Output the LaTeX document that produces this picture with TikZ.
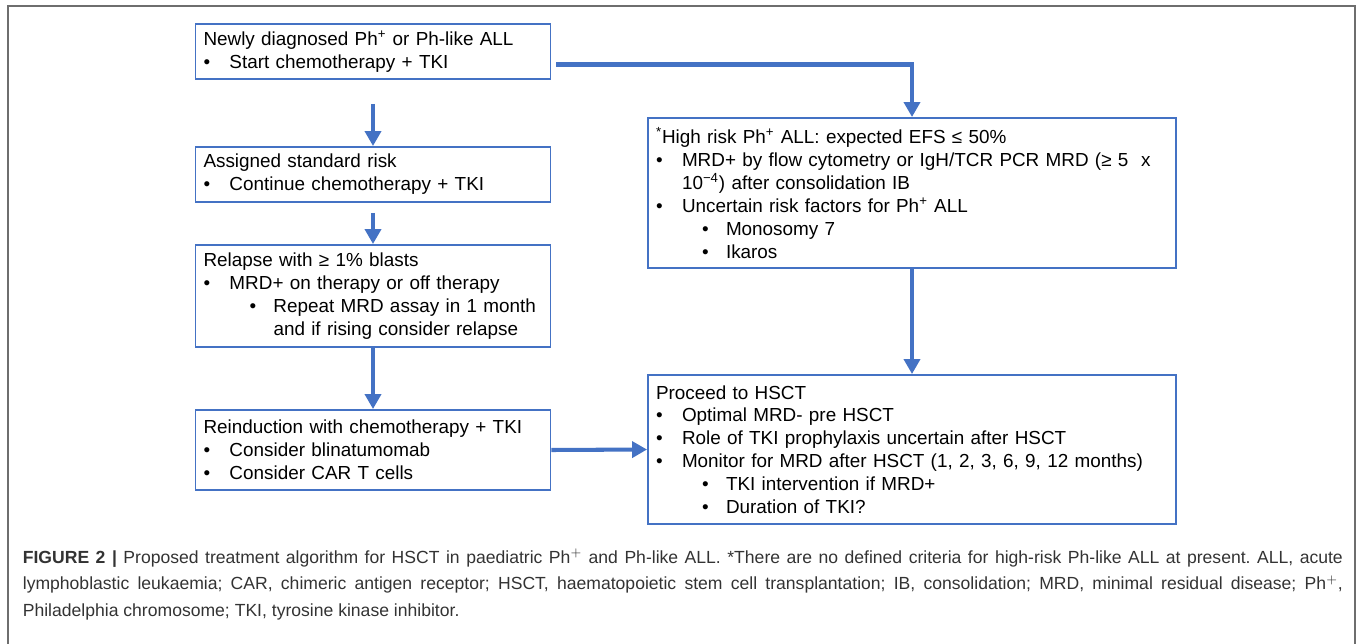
\documentclass[tikz,border=0pt]{standalone}
\usepackage{fontspec}
\setmainfont{Liberation Sans}
\usetikzlibrary{arrows.meta, positioning}
\definecolor{BoxBlue}{HTML}{4472C4}
\definecolor{FrameGrey}{HTML}{6E6E6E}
\definecolor{CapInk}{HTML}{333333}
\newcommand{\lvlA}{\makebox[0.52cm][l]{\textbullet}}
\newcommand{\lvlB}{\hspace*{0.92cm}\makebox[0.48cm][l]{\textbullet}}
\newcommand{\lvlC}{\hspace*{1.40cm}}
\frenchspacing

\begin{document}
\begin{tikzpicture}[
      box/.style={draw=BoxBlue, line width=1.1pt, inner xsep=0.16cm, inner ysep=0pt,
                  text width=6.78cm, align=left, font=\fontsize{10.75}{13}\selectfont},
      widebox/.style={box, text width=10.24cm},
      arr/.style={-{Triangle[length=0.3cm, width=0.32cm]}, line width=2.3pt, draw=BoxBlue},
      caption/.style={text=CapInk, text width=26.4cm, align=justify, inner sep=0pt,
                  font=\fontsize{10}{15}\selectfont}]
    \useasboundingbox (0,0) rectangle (27.14,-12.88);
    \draw[FrameGrey, line width=0.8pt] (0.16,-13) -- (0.16,-0.12) -- (27.10,-0.12) -- (27.10,-13);
    % left column
    \node[box, minimum height=1.10cm] (start) at (7.46,-1.03)
      {Newly diagnosed Ph\textsuperscript{+} or Ph-like ALL\\
       \lvlA Start chemotherapy + TKI};
    \node[box, minimum height=1.10cm] (std) at (7.46,-3.49)
      {Assigned standard risk\\
       \lvlA Continue chemotherapy + TKI};
    \node[box, minimum height=2.04cm] (relapse) at (7.46,-5.92)
      {Relapse with ≥ 1\% blasts\\
       \lvlA MRD+ on therapy or off therapy\\
       \lvlB Repeat MRD assay in 1 month\\
       \lvlC and if rising consider relapse};
    \node[box, minimum height=1.60cm] (reind) at (7.46,-9.00)
      {Reinduction with chemotherapy + TKI\\
       \lvlA Consider blinatumomab\\
       \lvlA Consider CAR T cells};
    % right column
    \node[widebox, minimum height=3.00cm] (hr) at (18.24,-3.86)
      {\textsuperscript{*}High risk Ph\textsuperscript{+} ALL: expected EFS ≤ 50\%\\
       \lvlA MRD+ by flow cytometry or IgH/TCR PCR MRD (≥ 5\ \ x\\
       \hspace*{0.52cm}10\textsuperscript{−4}) after consolidation IB\\
       \lvlA Uncertain risk factors for Ph\textsuperscript{+} ALL\\
       \lvlB Monosomy 7\\
       \lvlB Ikaros};
    \node[widebox, minimum height=2.98cm] (hsct) at (18.24,-8.99)
      {Proceed to HSCT\\
       \lvlA Optimal MRD- pre HSCT\\
       \lvlA Role of TKI prophylaxis uncertain after HSCT\\
       \lvlA Monitor for MRD after HSCT (1, 2, 3, 6, 9, 12 months)\\
       \lvlB TKI intervention if MRD+\\
       \lvlB Duration of TKI?};
    % connectors
    \draw[arr] ([yshift=-0.48cm]start.south) -- (std.north);
    \draw[arr] ([yshift=-0.20cm]std.south) -- (relapse.north);
    \draw[arr] (relapse.south) -- (reind.north);
    \draw[arr] ([xshift=0.1cm, yshift=-0.26cm]start.east) -| (hr.north);
    \draw[arr] (hr.south) -- (hsct.north);
    \draw[arr] (reind.east) -- (hsct.west);
    % caption
    \node[caption, anchor=north west] (cap) at (0.45,-10.98)
      {\textbf{FIGURE 2 |} Proposed treatment algorithm for HSCT in paediatric Ph$^{+}$ and Ph-like ALL. *There are no defined criteria for high-risk Ph-like ALL at present. ALL, acute\linebreak
       lymphoblastic leukaemia; CAR, chimeric antigen receptor; HSCT, haematopoietic stem cell transplantation; IB, consolidation; MRD, minimal residual disease; Ph$^{+}$,\linebreak
       Philadelphia chromosome; TKI, tyrosine kinase inhibitor.};
  \end{tikzpicture}
\end{document}
